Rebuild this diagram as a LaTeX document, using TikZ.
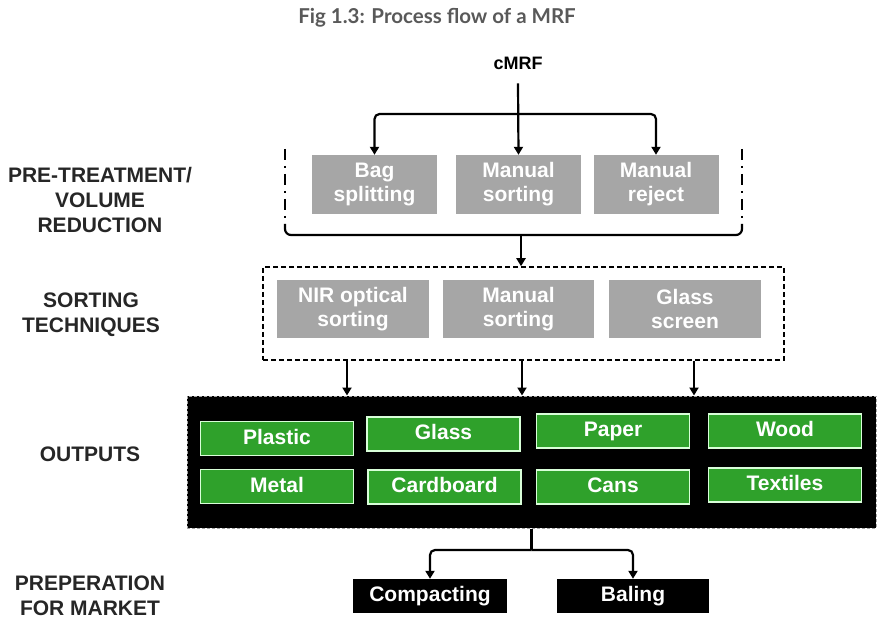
\documentclass[tikz,border=0pt]{standalone}
\usepackage{fontspec}
\setmainfont{Liberation Sans}
\newfontfamily\titlefont{Lato}
\usetikzlibrary{arrows.meta}
\definecolor{boxgray}{HTML}{A6A6A6}
\definecolor{outgreen}{HTML}{2FA12B}
\definecolor{titlegray}{HTML}{595959}
\tikzset{
  conn/.style={line width=2.2pt, black},
  arr/.style={conn, -{Triangle[length=8pt,width=9pt]}},
  lbl/.style={font=\bfseries\fontsize{21}{25}\selectfont, align=center, text=black!85, inner sep=0},
  graybox/.style={fill=boxgray, text=white, font=\bfseries\fontsize{21}{24}\selectfont, align=center,
    minimum height=59pt, inner sep=0},
  sortbox/.style={graybox, minimum height=58pt},
  outbox/.style={fill=outgreen, draw=green!15!white, line width=1.5pt, text=white,
    font=\bfseries\fontsize{21}{24}\selectfont, minimum width=153pt, minimum height=34pt,
    text height=15pt, text depth=4pt, inner sep=0},
  mktbox/.style={fill=black, text=white, font=\bfseries\fontsize{21}{24}\selectfont,
    minimum height=34pt, text height=15pt, text depth=4pt, inner sep=0},
  dashdot/.style={line width=2.2pt, dash pattern=on 11pt off 6pt on 2pt off 6pt}
}
\begin{document}
\begin{tikzpicture}[x=1pt, y=-1pt]
\useasboundingbox[fill=white] (0,0) rectangle (878,620);

% title
\node[font=\titlefont\bfseries\fontsize{20.5}{24}\selectfont, text=titlegray] (title) at (437,18) {Fig 1.3: Process flow of a MRF};

% stage labels
\node[lbl] (lpre) at (100,200) {PRE-TREATMENT/\\VOLUME\\REDUCTION};
\node[lbl] (lsort) at (91,315) {SORTING\\TECHNIQUES};
\node[lbl] (lout) at (90,454) {OUTPUTS};
\node[lbl] (lmkt) at (90,596) {PREPERATION\\FOR MARKET};

% source
\node[font=\bfseries\fontsize{18}{20}\selectfont, inner sep=0] (cmrf) at (518,63) {cMRF};

% pre-treatment steps
\node[graybox, minimum width=125pt] (bag) at (374.5,184.5) {Bag\\splitting};
\node[graybox, minimum width=125pt] (mans) at (518.5,184.5) {Manual\\sorting};
\node[graybox, minimum width=125pt] (manr) at (656,184.5) {Manual\\reject};

\coordinate (hub) at (518.5,114);
\draw[arr] ([yshift=-14pt]cmrf.south) -- (mans.north);
\draw[arr, rounded corners=5pt] (hub) -| (bag.north);
\draw[arr, rounded corners=5pt] (hub) -| (manr.north);

% bracket gathering the pre-treatment steps
\coordinate (brLt) at (285,149);
\coordinate (brLm) at (285,224);
\coordinate (brL) at (285,235);
\coordinate (brRt) at (742,149);
\coordinate (brRm) at (742,224);
\coordinate (brR) at (742,235);
\draw[dashdot] (brLt) -- (brLm);
\draw[dashdot] (brRt) -- (brRm);
\draw[conn, rounded corners=6pt] (brLm) -- (brL) -- (brR) -- (brRm);

% sorting techniques
\node[draw, dashed, line width=1.5pt, dash pattern=on 5pt off 3pt, minimum width=521pt, minimum height=93pt, inner sep=0] (sortbox) at (523.5,313.5) {};
\node[sortbox, minimum width=152pt] (nir) at (353,309) {NIR optical\\sorting};
\node[sortbox, minimum width=151pt] (mans2) at (518.5,309) {Manual\\sorting};
\node[sortbox, minimum width=152pt] (glscr) at (685,309) {Glass\\screen};
\coordinate (bmid) at (521,235);
\draw[arr] (bmid) -- (sortbox.north -| bmid);

% outputs
\node[fill=black, draw=gray!70, dashed, line width=1pt, dash pattern=on 3pt off 2pt, minimum width=689pt, minimum height=132pt, inner sep=0] (outs) at (531.5,462) {};
\node[outbox] (plastic) at (277,438.5) {Plastic};
\node[outbox] (glass) at (443.5,434) {Glass};
\node[outbox] (paper) at (613,431) {Paper};
\node[outbox] (wood) at (785,431) {Wood};
\node[outbox] (metal) at (277,486.5) {Metal};
\node[outbox] (cardboard) at (444.5,487) {Cardboard};
\node[outbox] (cans) at (613,487) {Cans};
\node[outbox] (textiles) at (785,485) {Textiles};

\coordinate (o1) at (347,0);
\coordinate (o2) at (522,0);
\coordinate (o3) at (694,0);
\foreach \c in {o1,o2,o3}
  \draw[arr] (sortbox.south -| \c) -- (outs.north -| \c);

% preparation for market
\node[mktbox, minimum width=154pt] (compact) at (430,596) {Compacting};
\node[mktbox, minimum width=152pt] (baling) at (633,596) {Baling};
\coordinate (split) at (531.5,550);
\draw[conn] (outs.south) -- (split);
\draw[arr, rounded corners=5pt] (split) -| (compact.north);
\draw[arr, rounded corners=5pt] (split) -| (baling.north);
\end{tikzpicture}
\end{document}
